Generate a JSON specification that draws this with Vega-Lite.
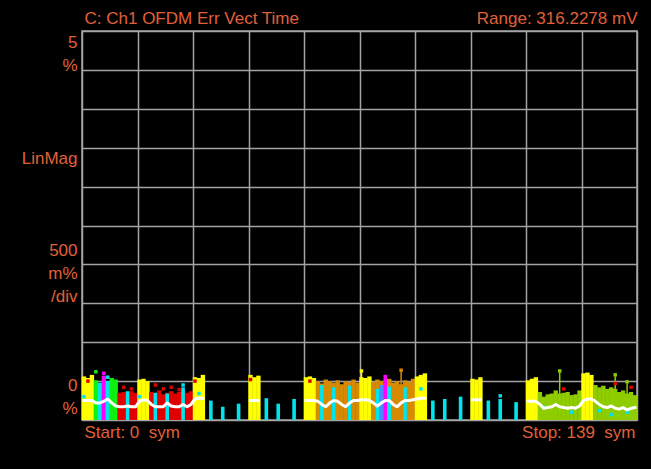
{
  "$schema": "https://vega.github.io/schema/vega-lite/v6.json",
  "width": 555,
  "height": 389,
  "autosize": {"type": "none"},
  "padding": {"left": 82, "top": 31, "right": 14, "bottom": 49},
  "background": "#000000",
  "config": {
    "view": {"stroke": "#a4a4a4", "strokeWidth": 1.5, "fill": "#000000"},
    "axis": {
      "labelFont": "Liberation Sans",
      "labelFontSize": 17,
      "labelColor": "#e0603a",
      "labelLimit": 0,
      "gridColor": "#a4a4a4",
      "gridWidth": 1.5,
      "gridOpacity": 1,
      "domain": false,
      "ticks": false,
      "labelOverlap": false,
      "labelFlush": false,
      "labelBound": false,
      "title": null
    }
  },
  "datasets": {
    "bars": [
      {"s": 0, "v": 0.56, "c": "pre"}, {"s": 1, "v": 0.54, "c": "pre"}, {"s": 2, "v": 0.58, "c": "pre"},
      {"s": 3, "v": 0.51, "c": "qpsk"}, {"s": 4, "v": 0.48, "c": "pilot"}, {"s": 5, "v": 0.57, "c": "aux"},
      {"s": 6, "v": 0.50, "c": "pilot"}, {"s": 7, "v": 0.54, "c": "qpsk"}, {"s": 8, "v": 0.52, "c": "qpsk"},
      {"s": 9, "v": 0.35, "c": "bpsk"}, {"s": 10, "v": 0.36, "c": "bpsk"}, {"s": 11, "v": 0.34, "c": "bpsk"},
      {"s": 12, "v": 0.37, "c": "bpsk"}, {"s": 13, "v": 0.35, "c": "bpsk"},
      {"s": 14, "v": 0.52, "c": "pre"}, {"s": 15, "v": 0.53, "c": "pre"}, {"s": 16, "v": 0.50, "c": "pre"},
      {"s": 17, "v": 0.36, "c": "bpsk"}, {"s": 18, "v": 0.34, "c": "bpsk"}, {"s": 19, "v": 0.38, "c": "bpsk"},
      {"s": 20, "v": 0.33, "c": "bpsk"}, {"s": 21, "v": 0.35, "c": "bpsk"}, {"s": 22, "v": 0.37, "c": "bpsk"},
      {"s": 23, "v": 0.34, "c": "bpsk"}, {"s": 24, "v": 0.36, "c": "bpsk"}, {"s": 25, "v": 0.38, "c": "bpsk"},
      {"s": 26, "v": 0.35, "c": "bpsk"}, {"s": 27, "v": 0.37, "c": "bpsk"},
      {"s": 28, "v": 0.55, "c": "pre"}, {"s": 29, "v": 0.54, "c": "pre"}, {"s": 30, "v": 0.58, "c": "pre"},
      {"s": 42, "v": 0.58, "c": "pre"}, {"s": 43, "v": 0.55, "c": "pre"}, {"s": 44, "v": 0.57, "c": "pre"},
      {"s": 56, "v": 0.55, "c": "pre"}, {"s": 57, "v": 0.56, "c": "pre"}, {"s": 58, "v": 0.54, "c": "pre"},
      {"s": 59, "v": 0.50, "c": "qam16"}, {"s": 60, "v": 0.47, "c": "qam16"}, {"s": 61, "v": 0.52, "c": "qam16"},
      {"s": 62, "v": 0.50, "c": "qam16"}, {"s": 63, "v": 0.48, "c": "qam16"}, {"s": 64, "v": 0.51, "c": "qam16"},
      {"s": 65, "v": 0.46, "c": "qam16"}, {"s": 66, "v": 0.50, "c": "qam16"}, {"s": 67, "v": 0.49, "c": "qam16"},
      {"s": 68, "v": 0.52, "c": "qam16"}, {"s": 69, "v": 0.48, "c": "qam16"},
      {"s": 70, "v": 0.55, "c": "pre"}, {"s": 71, "v": 0.54, "c": "pre"}, {"s": 72, "v": 0.56, "c": "pre"},
      {"s": 73, "v": 0.49, "c": "qam16"}, {"s": 74, "v": 0.52, "c": "qam16"}, {"s": 75, "v": 0.50, "c": "qam16"},
      {"s": 76, "v": 0.47, "c": "qam16"}, {"s": 77, "v": 0.53, "c": "qam16"}, {"s": 78, "v": 0.48, "c": "qam16"},
      {"s": 79, "v": 0.50, "c": "qam16"}, {"s": 80, "v": 0.46, "c": "qam16"}, {"s": 81, "v": 0.51, "c": "qam16"},
      {"s": 82, "v": 0.49, "c": "qam16"}, {"s": 83, "v": 0.53, "c": "qam16"},
      {"s": 84, "v": 0.56, "c": "pre"}, {"s": 85, "v": 0.58, "c": "pre"}, {"s": 86, "v": 0.60, "c": "pre"},
      {"s": 98, "v": 0.53, "c": "pre"}, {"s": 99, "v": 0.52, "c": "pre"}, {"s": 100, "v": 0.55, "c": "pre"},
      {"s": 112, "v": 0.51, "c": "pre"}, {"s": 113, "v": 0.53, "c": "pre"}, {"s": 114, "v": 0.55, "c": "pre"},
      {"s": 115, "v": 0.36, "c": "qam64"}, {"s": 116, "v": 0.30, "c": "qam64"}, {"s": 117, "v": 0.33, "c": "qam64"},
      {"s": 118, "v": 0.34, "c": "qam64"}, {"s": 119, "v": 0.38, "c": "qam64"}, {"s": 120, "v": 0.34, "c": "qam64"},
      {"s": 121, "v": 0.35, "c": "qam64"}, {"s": 122, "v": 0.36, "c": "qam64"}, {"s": 123, "v": 0.32, "c": "qam64"},
      {"s": 124, "v": 0.33, "c": "qam64"}, {"s": 125, "v": 0.38, "c": "qam64"},
      {"s": 126, "v": 0.60, "c": "pre"}, {"s": 127, "v": 0.61, "c": "pre"}, {"s": 128, "v": 0.58, "c": "pre"},
      {"s": 129, "v": 0.45, "c": "qam64"}, {"s": 130, "v": 0.42, "c": "qam64"}, {"s": 131, "v": 0.44, "c": "qam64"},
      {"s": 132, "v": 0.40, "c": "qam64"}, {"s": 133, "v": 0.42, "c": "qam64"}, {"s": 134, "v": 0.40, "c": "qam64"},
      {"s": 135, "v": 0.36, "c": "qam64"}, {"s": 136, "v": 0.38, "c": "qam64"}, {"s": 137, "v": 0.34, "c": "qam64"},
      {"s": 138, "v": 0.36, "c": "qam64"}, {"s": 139, "v": 0.32, "c": "qam64"}
    ],
    "pilots": [
      {"s": 11, "v": 0.37, "c": "pilot"}, {"s": 18, "v": 0.35, "c": "pilot"}, {"s": 21, "v": 0.34, "c": "pilot"},
      {"s": 25, "v": 0.42, "c": "pilot"},
      {"s": 32, "v": 0.25, "c": "pilot"}, {"s": 35, "v": 0.17, "c": "pilot"}, {"s": 39, "v": 0.21, "c": "pilot"},
      {"s": 46, "v": 0.28, "c": "pilot"}, {"s": 49, "v": 0.21, "c": "pilot"}, {"s": 53, "v": 0.27, "c": "pilot"},
      {"s": 60, "v": 0.45, "c": "pilot"}, {"s": 63, "v": 0.42, "c": "pilot"}, {"s": 67, "v": 0.44, "c": "pilot"},
      {"s": 74, "v": 0.40, "c": "pilot"}, {"s": 75, "v": 0.45, "c": "pilot2"}, {"s": 76, "v": 0.58, "c": "aux"},
      {"s": 77, "v": 0.43, "c": "pilot"}, {"s": 81, "v": 0.42, "c": "pilot"},
      {"s": 88, "v": 0.25, "c": "pilot"}, {"s": 91, "v": 0.27, "c": "pilot"}, {"s": 95, "v": 0.30, "c": "pilot"},
      {"s": 102, "v": 0.25, "c": "pilot"}, {"s": 105, "v": 0.27, "c": "pilot"}, {"s": 109, "v": 0.23, "c": "pilot"}
    ],
    "spikes": [
      {"s": 70, "v": 0.61, "c": "pre"}, {"s": 80, "v": 0.62, "c": "qam16"},
      {"s": 120, "v": 0.61, "c": "qam64"}, {"s": 134, "v": 0.56, "c": "qam64"}, {"s": 137, "v": 0.47, "c": "qam64"}
    ],
    "dots": [
      {"s": 3, "v": 0.62, "c": "qpsk"}, {"s": 5, "v": 0.60, "c": "aux"}, {"s": 6, "v": 0.55, "c": "pilot"},
      {"s": 1, "v": 0.50, "c": "bpsk"}, {"s": 10, "v": 0.42, "c": "bpsk"}, {"s": 12, "v": 0.40, "c": "bpsk"},
      {"s": 18, "v": 0.45, "c": "bpsk"}, {"s": 20, "v": 0.40, "c": "bpsk"}, {"s": 22, "v": 0.42, "c": "bpsk"},
      {"s": 24, "v": 0.39, "c": "bpsk"}, {"s": 25, "v": 0.45, "c": "pilot"}, {"s": 14, "v": 0.30, "c": "pilot"},
      {"s": 28, "v": 0.50, "c": "bpsk"}, {"s": 42, "v": 0.52, "c": "bpsk"}, {"s": 57, "v": 0.50, "c": "bpsk"},
      {"s": 0, "v": 0.30, "c": "pilot"}, {"s": 29, "v": 0.34, "c": "pilot"}, {"s": 85, "v": 0.40, "c": "pilot"},
      {"s": 70, "v": 0.63, "c": "pre"}, {"s": 80, "v": 0.64, "c": "qam16"}, {"s": 105, "v": 0.31, "c": "pilot"},
      {"s": 120, "v": 0.63, "c": "qam64"}, {"s": 134, "v": 0.58, "c": "qam64"}, {"s": 137, "v": 0.49, "c": "qam64"},
      {"s": 121, "v": 0.40, "c": "bpsk"}, {"s": 134, "v": 0.47, "c": "bpsk"}, {"s": 138, "v": 0.42, "c": "bpsk"},
      {"s": 116, "v": 0.16, "c": "pilot"}, {"s": 123, "v": 0.10, "c": "pilot"}, {"s": 130, "v": 0.12, "c": "pilot"},
      {"s": 133, "v": 0.07, "c": "pilot"}, {"s": 137, "v": 0.10, "c": "pilot"}
    ],
    "avg": [
      {"s": 0, "v": 0.25, "seg": "a"}, {"s": 1, "v": 0.25, "seg": "a"}, {"s": 2, "v": 0.25, "seg": "a"},
      {"s": 3, "v": 0.22, "seg": "a"}, {"s": 4, "v": 0.22, "seg": "a"}, {"s": 5, "v": 0.24, "seg": "a"},
      {"s": 6, "v": 0.27, "seg": "a"}, {"s": 7, "v": 0.22, "seg": "a"}, {"s": 8, "v": 0.18, "seg": "a"},
      {"s": 9, "v": 0.17, "seg": "a"}, {"s": 10, "v": 0.17, "seg": "a"}, {"s": 11, "v": 0.18, "seg": "a"},
      {"s": 12, "v": 0.17, "seg": "a"}, {"s": 13, "v": 0.17, "seg": "a"}, {"s": 14, "v": 0.24, "seg": "a"},
      {"s": 15, "v": 0.26, "seg": "a"}, {"s": 16, "v": 0.25, "seg": "a"}, {"s": 17, "v": 0.20, "seg": "a"},
      {"s": 18, "v": 0.17, "seg": "a"}, {"s": 19, "v": 0.17, "seg": "a"}, {"s": 20, "v": 0.17, "seg": "a"},
      {"s": 21, "v": 0.22, "seg": "a"}, {"s": 22, "v": 0.18, "seg": "a"}, {"s": 23, "v": 0.17, "seg": "a"},
      {"s": 24, "v": 0.17, "seg": "a"}, {"s": 25, "v": 0.20, "seg": "a"}, {"s": 26, "v": 0.17, "seg": "a"},
      {"s": 27, "v": 0.20, "seg": "a"}, {"s": 28, "v": 0.27, "seg": "a"}, {"s": 29, "v": 0.28, "seg": "a"},
      {"s": 30, "v": 0.28, "seg": "a"},
      {"s": 42, "v": 0.25, "seg": "b"}, {"s": 43, "v": 0.25, "seg": "b"}, {"s": 44, "v": 0.25, "seg": "b"},
      {"s": 56, "v": 0.25, "seg": "c"}, {"s": 57, "v": 0.25, "seg": "c"}, {"s": 58, "v": 0.25, "seg": "c"},
      {"s": 59, "v": 0.24, "seg": "c"}, {"s": 60, "v": 0.20, "seg": "c"}, {"s": 61, "v": 0.17, "seg": "c"},
      {"s": 62, "v": 0.22, "seg": "c"}, {"s": 63, "v": 0.25, "seg": "c"}, {"s": 64, "v": 0.24, "seg": "c"},
      {"s": 65, "v": 0.20, "seg": "c"}, {"s": 66, "v": 0.17, "seg": "c"}, {"s": 67, "v": 0.22, "seg": "c"},
      {"s": 68, "v": 0.25, "seg": "c"}, {"s": 69, "v": 0.25, "seg": "c"}, {"s": 70, "v": 0.26, "seg": "c"},
      {"s": 71, "v": 0.26, "seg": "c"}, {"s": 72, "v": 0.25, "seg": "c"}, {"s": 73, "v": 0.22, "seg": "c"},
      {"s": 74, "v": 0.18, "seg": "c"}, {"s": 75, "v": 0.22, "seg": "c"}, {"s": 76, "v": 0.25, "seg": "c"},
      {"s": 77, "v": 0.25, "seg": "c"}, {"s": 78, "v": 0.20, "seg": "c"}, {"s": 79, "v": 0.17, "seg": "c"},
      {"s": 80, "v": 0.22, "seg": "c"}, {"s": 81, "v": 0.25, "seg": "c"}, {"s": 82, "v": 0.25, "seg": "c"},
      {"s": 83, "v": 0.26, "seg": "c"}, {"s": 84, "v": 0.27, "seg": "c"}, {"s": 85, "v": 0.28, "seg": "c"},
      {"s": 86, "v": 0.28, "seg": "c"},
      {"s": 98, "v": 0.26, "seg": "d"}, {"s": 99, "v": 0.26, "seg": "d"}, {"s": 100, "v": 0.26, "seg": "d"},
      {"s": 112, "v": 0.24, "seg": "e"}, {"s": 113, "v": 0.24, "seg": "e"}, {"s": 114, "v": 0.24, "seg": "e"},
      {"s": 115, "v": 0.20, "seg": "e"}, {"s": 116, "v": 0.15, "seg": "e"}, {"s": 117, "v": 0.16, "seg": "e"},
      {"s": 118, "v": 0.17, "seg": "e"}, {"s": 119, "v": 0.20, "seg": "e"}, {"s": 120, "v": 0.17, "seg": "e"},
      {"s": 121, "v": 0.16, "seg": "e"}, {"s": 122, "v": 0.15, "seg": "e"}, {"s": 123, "v": 0.16, "seg": "e"},
      {"s": 124, "v": 0.15, "seg": "e"}, {"s": 125, "v": 0.18, "seg": "e"}, {"s": 126, "v": 0.25, "seg": "e"},
      {"s": 127, "v": 0.27, "seg": "e"}, {"s": 128, "v": 0.27, "seg": "e"}, {"s": 129, "v": 0.24, "seg": "e"},
      {"s": 130, "v": 0.20, "seg": "e"}, {"s": 131, "v": 0.17, "seg": "e"}, {"s": 132, "v": 0.16, "seg": "e"},
      {"s": 133, "v": 0.18, "seg": "e"}, {"s": 134, "v": 0.15, "seg": "e"}, {"s": 135, "v": 0.14, "seg": "e"},
      {"s": 136, "v": 0.16, "seg": "e"}, {"s": 137, "v": 0.13, "seg": "e"}, {"s": 138, "v": 0.15, "seg": "e"},
      {"s": 139, "v": 0.16, "seg": "e"}
    ]
  },
  "resolve": {"axis": {"x": "independent", "y": "independent"}},
  "layer": [
    {
      "data": {"name": "bars"},
      "mark": {"type": "bar", "width": 4.4},
      "encoding": {
        "x": {
          "field": "s", "type": "quantitative",
          "scale": {"domain": [-0.5, 139.5], "nice": false, "zero": false, "padding": 0},
          "axis": {
            "orient": "bottom",
            "values": [-0.5, 13.5, 27.5, 41.5, 55.5, 69.5, 83.5, 97.5, 111.5, 125.5, 139.5],
            "tickCount": 30,
            "grid": true,
            "labelPadding": 4,
            "labelBaseline": "top",
            "labelExpr": "datum.value < 0 ? 'Start: 0\u00a0 sym' : datum.value > 139 ? 'Stop: 139\u00a0 sym' : ''",
            "labelAlign": {"condition": {"test": "datum.value < 0", "value": "left"}, "value": "right"},
            "labelOffset": {"condition": {"test": "datum.value < 0", "value": 2}, "value": -2}
          }
        },
        "y": {
          "field": "v", "type": "quantitative",
          "scale": {"domain": [0, 5], "nice": false, "padding": 0},
          "axis": {
            "values": [0, 0.5, 1, 1.5, 2, 2.5, 3, 3.5, 4, 4.5, 5],
            "tickCount": 30,
            "grid": true,
            "labelPadding": 5,
            "labelLineHeight": 23,
            "labelExpr": "datum.value == 5 ? ['5', '%'] : datum.value == 3.5 ? 'LinMag' : datum.value == 1.5 ? ['500', 'm%', '/div'] : datum.value == 0 ? ['0', '%'] : ''",
            "labelBaseline": {"condition": {"test": "datum.value >= 3", "value": "top"}, "value": "bottom"},
            "labelOffset": {
              "condition": [
                {"test": "datum.value == 1.5", "value": -44},
                {"test": "datum.value == 0", "value": -26}
              ],
              "value": 3
            }
          }
        },
        "color": {
          "field": "c", "type": "nominal", "legend": null,
          "scale": {
            "domain": ["pre", "bpsk", "qpsk", "qam16", "qam64", "pilot", "pilot2", "aux"],
            "range": ["#ffff00", "#e00000", "#10f010", "#d68a00", "#8fcc00", "#00e4ee", "#4a8cff", "#ff00ff"]
          }
        }
      }
    },
    {
      "data": {"name": "pilots"},
      "mark": {"type": "bar", "width": 3.6},
      "encoding": {
        "x": {"field": "s", "type": "quantitative", "axis": null},
        "y": {"field": "v", "type": "quantitative", "axis": null},
        "color": {"field": "c", "type": "nominal", "legend": null}
      }
    },
    {
      "data": {"name": "spikes"},
      "mark": {"type": "bar", "width": 1.5},
      "encoding": {
        "x": {"field": "s", "type": "quantitative", "axis": null},
        "y": {"field": "v", "type": "quantitative", "axis": null},
        "color": {"field": "c", "type": "nominal", "legend": null}
      }
    },
    {
      "data": {"name": "dots"},
      "mark": {"type": "square", "size": 12, "opacity": 1},
      "encoding": {
        "x": {"field": "s", "type": "quantitative", "axis": null},
        "y": {"field": "v", "type": "quantitative", "axis": null},
        "color": {"field": "c", "type": "nominal", "legend": null}
      }
    },
    {
      "data": {"name": "avg"},
      "mark": {"type": "line", "color": "#ffffff", "strokeWidth": 3, "strokeCap": "square", "strokeJoin": "round"},
      "encoding": {
        "x": {
          "field": "s", "type": "quantitative",
          "axis": {
            "orient": "top",
            "values": [-0.5, 139.5],
            "grid": false,
            "labelPadding": 4,
            "labelBaseline": "bottom",
            "labelExpr": "datum.value < 0 ? 'C: Ch1 OFDM Err Vect Time' : 'Range: 316.2278 mV'",
            "labelAlign": {"condition": {"test": "datum.value < 0", "value": "left"}, "value": "right"},
            "labelOffset": {"condition": {"test": "datum.value < 0", "value": 2}, "value": 0}
          }
        },
        "y": {"field": "v", "type": "quantitative", "axis": null},
        "detail": {"field": "seg", "type": "nominal"}
      }
    }
  ]
}
